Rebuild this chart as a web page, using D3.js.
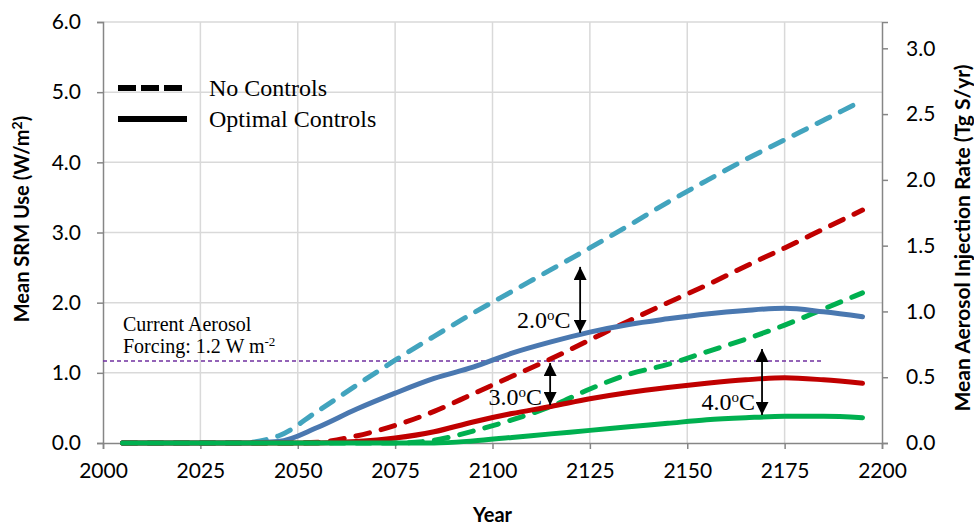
<!DOCTYPE html>
<html>
<head>
<meta charset="utf-8">
<script src="https://cdn.jsdelivr.net/npm/d3@7"></script>
<style>
  body { margin: 0; background: #fff; }
  svg { display: block; }
  .tick text { font-family: Lato, "Open Sans", sans-serif; font-size: 21px; fill: #000; }
  .serif { font-family: "Liberation Serif", "Times New Roman", serif; fill: #000; }
  .title { font-family: Lato, "Open Sans", sans-serif; font-weight: bold; fill: #000; }
</style>
</head>
<body>
<svg id="chart" width="974" height="529"></svg>
<script>
// years of the model output
const years = [2005, 2015, 2025, 2035, 2045, 2055, 2065, 2075, 2085, 2095,
               2105, 2115, 2125, 2135, 2145, 2155, 2165, 2175, 2185, 2195];

// mean SRM use, W/m2
const noCtrl2 = [0, 0, 0, 0, 0.10, 0.45, 0.82, 1.18, 1.52, 1.85,
                 2.16, 2.47, 2.78, 3.10, 3.43, 3.74, 4.04, 4.32, 4.60, 4.88];
const optCtrl2 = [0, 0, 0, 0, 0.02, 0.22, 0.48, 0.71, 0.92, 1.08,
                  1.28, 1.44, 1.58, 1.69, 1.77, 1.84, 1.89, 1.92, 1.87, 1.80];
const noCtrl3 = [0, 0, 0, 0, 0, 0.01, 0.10, 0.25, 0.45, 0.70,
                 0.95, 1.20, 1.47, 1.74, 2.00, 2.25, 2.52, 2.78, 3.05, 3.32];
const optCtrl3 = [0, 0, 0, 0, 0, 0, 0.02, 0.07, 0.16, 0.30,
                  0.42, 0.52, 0.63, 0.72, 0.79, 0.85, 0.90, 0.93, 0.90, 0.85];
const noCtrl4 = [0, 0, 0, 0, 0, 0, 0, 0, 0.04, 0.17,
                 0.33, 0.52, 0.77, 0.98, 1.12, 1.30, 1.48, 1.68, 1.91, 2.14];
const optCtrl4 = [0, 0, 0, 0, 0, 0, 0, 0, 0, 0.03,
                  0.08, 0.13, 0.18, 0.23, 0.28, 0.33, 0.36, 0.38, 0.38, 0.36];

const aerosolForcing = 1.17;
const forcingEnd = 2185;

const leftTicks = [0, 1, 2, 3, 4, 5, 6];
const rightTicks = [0, 0.5, 1.0, 1.5, 2.0, 2.5, 3.0];
const yearTicks = [2000, 2025, 2050, 2075, 2100, 2125, 2150, 2175, 2200];

// temperature targets: arrow year, arrow top / bottom, label position
const arrows = [
  { label: "2.0", year: 2122.5, top: 2.51, bottom: 1.57, lx: 2120, ly: 1.64 },
  { label: "3.0", year: 2114.8, top: 1.14, bottom: 0.54, lx: 2112.7, ly: 0.54 },
  { label: "4.0", year: 2169.2, top: 1.34, bottom: 0.40, lx: 2167.4, ly: 0.47 }
];

const series = [
  { values: noCtrl2, color: "#42a4be", dashed: true },
  { values: noCtrl3, color: "#c00000", dashed: true },
  { values: noCtrl4, color: "#00b050", dashed: true },
  { values: optCtrl2, color: "#4a78b0", dashed: false },
  { values: optCtrl3, color: "#c00000", dashed: false },
  { values: optCtrl4, color: "#00b050", dashed: false }
];

const svg = d3.select("#chart");
const mLeft = 103, mRight = 882, mTop = 22, mBottom = 443;

const x = d3.scaleLinear().domain([2000, 2200]).range([mLeft, mRight]);
const y = d3.scaleLinear().domain([0, 6]).range([mBottom, mTop]);
const y2 = d3.scaleLinear().domain([0, 3.2]).range([mBottom, mTop]);

// gridlines
svg.append("g")
  .selectAll("line")
  .data(leftTicks.slice(1))
  .join("line")
  .attr("x1", mLeft).attr("x2", mRight)
  .attr("y1", d => y(d)).attr("y2", d => y(d))
  .attr("stroke", "#d9d9d9").attr("stroke-width", 1.5);
svg.append("g")
  .selectAll("line")
  .data(yearTicks.slice(1, -1))
  .join("line")
  .attr("x1", d => x(d)).attr("x2", d => x(d))
  .attr("y1", mTop).attr("y2", mBottom)
  .attr("stroke", "#d9d9d9").attr("stroke-width", 1.5);

// axes
const styleAxis = g => {
  g.select(".domain").attr("stroke", "#868686").attr("stroke-width", 1.5).attr("fill", "none");
  g.selectAll(".tick line").attr("stroke", "#868686").attr("stroke-width", 1.5);
};

svg.append("g")
  .attr("transform", `translate(${mLeft},0)`)
  .call(d3.axisLeft(y).tickValues(leftTicks).tickFormat(d3.format(".1f")).tickSizeOuter(0).tickSize(6).tickPadding(16))
  .call(styleAxis);

svg.append("g")
  .attr("transform", `translate(${mRight},0)`)
  .call(d3.axisRight(y2).tickValues(rightTicks).tickFormat(d3.format(".1f")).tickSizeOuter(0).tickSize(6).tickPadding(18))
  .call(styleAxis);

svg.append("g")
  .attr("transform", `translate(0,${mBottom})`)
  .call(d3.axisBottom(x).tickValues(yearTicks).tickFormat(d3.format("d")).tickSizeOuter(0).tickSize(6).tickPadding(14))
  .call(styleAxis);

// aerosol forcing reference line
svg.append("line")
  .attr("x1", x(2000)).attr("x2", x(forcingEnd))
  .attr("y1", y(aerosolForcing)).attr("y2", y(aerosolForcing))
  .attr("stroke", "#7030a0").attr("stroke-width", 1.5)
  .attr("stroke-dasharray", "4,3");

const line = d3.line()
  .x((d, i) => x(years[i]))
  .y(d => y(d))
  .curve(d3.curveMonotoneX);

svg.append("g")
  .selectAll("path")
  .data(series)
  .join("path")
  .attr("d", d => line(d.values))
  .attr("fill", "none")
  .attr("stroke", d => d.color)
  .attr("stroke-width", 5)
  .attr("stroke-linecap", "round")
  .attr("stroke-dasharray", d => d.dashed ? "14,12" : null);

// double headed arrows
const defs = svg.append("defs");
defs.append("marker")
  .attr("id", "arrowhead")
  .attr("viewBox", "0 0 10 10")
  .attr("refX", 10).attr("refY", 5)
  .attr("markerWidth", 13).attr("markerHeight", 13)
  .attr("markerUnits", "userSpaceOnUse")
  .attr("orient", "auto-start-reverse")
  .append("path")
  .attr("d", "M0,0L10,5L0,10Z")
  .attr("fill", "#000");

const ann = svg.append("g");
arrows.forEach(a => {
  ann.append("line")
    .attr("x1", x(a.year)).attr("x2", x(a.year))
    .attr("y1", y(a.top)).attr("y2", y(a.bottom))
    .attr("stroke", "#000").attr("stroke-width", 1.8)
    .attr("marker-start", "url(#arrowhead)")
    .attr("marker-end", "url(#arrowhead)");
  const t = ann.append("text")
    .attr("class", "serif")
    .attr("x", x(a.lx)).attr("y", y(a.ly))
    .attr("text-anchor", "end")
    .style("font-size", "24px");
  t.append("tspan").text(a.label);
  t.append("tspan").attr("dy", -8).style("font-size", "15px").text("o");
  t.append("tspan").attr("dy", 8).text("C");
});

// aerosol label
const aeroText = svg.append("text")
  .attr("class", "serif")
  .attr("x", 123).attr("y", 331)
  .style("font-size", "20px");
aeroText.append("tspan").text("Current Aerosol");
aeroText.append("tspan").attr("x", 123).attr("y", 353).text("Forcing: 1.2 W m");
aeroText.append("tspan").attr("dy", -7).style("font-size", "13px").text("-2");

// legend
const legend = [
  { label: "No Controls", dashed: true, yy: 88, ty: 96 },
  { label: "Optimal Controls", dashed: false, yy: 119, ty: 127 }
];
const lg = svg.append("g");
lg.selectAll("line")
  .data(legend)
  .join("line")
  .attr("x1", 118).attr("x2", 187)
  .attr("y1", d => d.yy).attr("y2", d => d.yy)
  .attr("stroke", "#000").attr("stroke-width", 6)
  .attr("stroke-dasharray", d => d.dashed ? "18,5" : null);
lg.selectAll("text")
  .data(legend)
  .join("text")
  .attr("class", "serif")
  .attr("x", 209).attr("y", d => d.ty)
  .style("font-size", "24px")
  .text(d => d.label);

// axis titles
svg.append("text")
  .attr("class", "title")
  .attr("transform", `translate(29,219) rotate(-90)`)
  .attr("text-anchor", "middle")
  .style("font-size", "20px")
  .html('Mean SRM Use (W/m<tspan dy="-7" style="font-size:14px">2</tspan><tspan dy="7">)</tspan>');

svg.append("text")
  .attr("class", "title")
  .attr("transform", `translate(970,238) rotate(-90)`)
  .attr("text-anchor", "middle")
  .style("font-size", "21px")
  .text("Mean Aerosol Injection Rate (Tg S/yr)");

svg.append("text")
  .attr("class", "title")
  .attr("x", x(2100)).attr("y", 522)
  .attr("text-anchor", "middle")
  .style("font-size", "20px")
  .text("Year");
</script>
</body>
</html>
